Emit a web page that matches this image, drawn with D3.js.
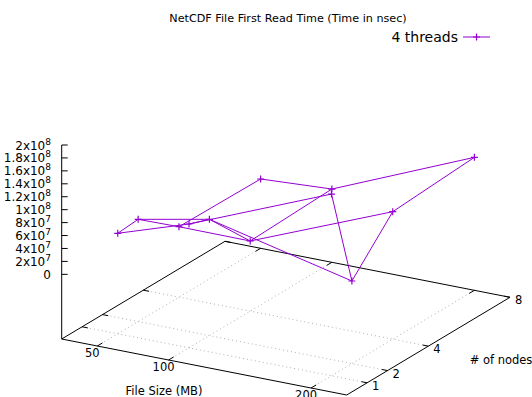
<!DOCTYPE html>
<html>
<head>
<meta charset="utf-8">
<script src="https://cdn.jsdelivr.net/npm/d3@7"></script>
<style>
  body { margin: 0; background: #fff; }
  svg { font-family: "DejaVu Sans", sans-serif; }
</style>
</head>
<body>
<svg id="chart" width="532" height="397"></svg>
<script>
// data
const fileSizes = [50, 100, 200];
const nodeCounts = [1, 2, 4, 8];
const time50 = [5.54e7, 5.81e7, 0.89e7, 0.72e7];
const time100 = [9.14e7, 7.98e7, 0.85e7, 1.33e7];
const time200 = [1.81e8, 2.77e7, 9.71e7, 1.056e8];
const seriesName = '4 threads';
const zTickValues = [0, 2e7, 4e7, 6e7, 8e7, 1e8, 1.2e8, 1.4e8, 1.6e8, 1.8e8, 2e8];

const times = [time50, time100, time200];
const COLOR = '#9400d3';

const svg = d3.select('#chart');

// base plane corners on screen (gnuplot view 60,30)
const L = [61.7, 339], F = [346.7, 395], R = [510, 297.3];
const xs = d3.scaleLinear().domain([25, 225]).range([0, 1]);
const ys = d3.scaleLinear().domain([0, 8]).range([0, 1]);
const zBase = -1e8; // ticslevel 0.5
const zs = d3.scaleLinear().domain([zBase, 2e8]).range([L[1], 145]);

function proj(x, y, z) {
  const u = xs(x), v = ys(y);
  return [
    L[0] + u * (F[0] - L[0]) + v * (R[0] - F[0]),
    zs(z) + u * (F[1] - L[1]) + v * (R[1] - F[1])
  ];
}
const line3 = d3.line().x(d => d[0]).y(d => d[1]);

// grid on base plane
const grid = svg.append('g').attr('stroke', '#b0b0b0').attr('stroke-width', 1)
  .attr('stroke-dasharray', '1,3').attr('fill', 'none');
fileSizes.forEach(x => {
  grid.append('path').attr('d', line3([proj(x, 0, zBase), proj(x, 8, zBase)]));
});
nodeCounts.filter(n => n < 8).forEach(y => {
  grid.append('path').attr('d', line3([proj(25, y, zBase), proj(225, y, zBase)]));
});

// border: base edges and z axis
const border = svg.append('g').attr('stroke', '#000').attr('stroke-width', 1).attr('fill', 'none');
border.append('path').attr('d', line3([
  proj(25, 0, zBase), proj(225, 0, zBase), proj(225, 8, zBase), proj(25, 8, zBase), proj(25, 0, zBase)
]));
border.append('path').attr('d', line3([proj(25, 0, zBase), proj(25, 0, 2e8)]));

// tics
const tics = svg.append('g').attr('stroke', '#000').attr('stroke-width', 1);
fileSizes.forEach(x => {
  tics.append('path').attr('d', line3([proj(x, 0, zBase), proj(x, 0.25, zBase)]));
  tics.append('path').attr('d', line3([proj(x, 8, zBase), proj(x, 7.75, zBase)]));
});
nodeCounts.forEach(y => {
  tics.append('path').attr('d', line3([proj(225, y, zBase), proj(221, y, zBase)]));
  tics.append('path').attr('d', line3([proj(25, y, zBase), proj(29, y, zBase)]));
});
zTickValues.forEach(z => {
  const p = proj(25, 0, z);
  tics.append('path').attr('d', line3([p, [p[0] + 6, p[1]]]));
});

// tick labels
const labels = svg.append('g').attr('fill', '#000').attr('font-size', 11.5);
fileSizes.forEach(x => {
  const p = proj(x, 0, zBase);
  labels.append('text').attr('x', p[0] - 5).attr('y', p[1] + 11)
    .attr('text-anchor', 'middle').text(x);
});
nodeCounts.forEach(y => {
  const p = proj(225, y, zBase);
  labels.append('text').attr('x', p[0] + 5).attr('y', p[1] + 7).text(y);
});
zTickValues.forEach(z => {
  const p = proj(25, 0, z);
  const t = labels.append('text').attr('x', 51).attr('y', p[1] + 4.5)
    .attr('text-anchor', 'end').attr('font-size', 12);
  if (z === 0) { t.text('0'); return; }
  const e = Math.floor(Math.log10(z));
  const m = +(z / Math.pow(10, e)).toFixed(1);
  t.append('tspan').text(m + 'x10');
  t.append('tspan').attr('font-size', 9).attr('dy', -5).text(e);
});

// axis labels
labels.append('text').attr('x', 164).attr('y', 395).attr('text-anchor', 'middle').text('File Size (MB)');
labels.append('text').attr('x', 501).attr('y', 364).attr('text-anchor', 'middle').text('# of nodes');

// title
svg.append('text').attr('x', 288).attr('y', 22).attr('text-anchor', 'middle')
  .attr('font-size', 11.2).text('NetCDF File First Read Time (Time in nsec)');

// data mesh: along nodes for each file size, and across file sizes for each node count
const pts = fileSizes.map((x, i) => nodeCounts.map((y, j) => proj(x, y, times[i][j])));
const mesh = svg.append('g').attr('stroke', COLOR).attr('stroke-width', 1).attr('fill', 'none');
pts.forEach(row => mesh.append('path').attr('d', line3(row)));
nodeCounts.forEach((y, j) => mesh.append('path').attr('d', line3(pts.map(row => row[j]))));

const plus = (g, p) => {
  g.append('path').attr('d', `M${p[0] - 3.5},${p[1]}H${p[0] + 3.5}M${p[0]},${p[1] - 3.5}V${p[1] + 3.5}`);
};
const marks = svg.append('g').attr('stroke', COLOR).attr('stroke-width', 1.2);
pts.flat().forEach(p => plus(marks, p));

// key
const key = svg.append('g');
key.append('text').attr('x', 458).attr('y', 42).attr('text-anchor', 'end')
  .attr('font-size', 14).text(seriesName);
key.append('path').attr('d', 'M463,37H490').attr('stroke', COLOR).attr('stroke-width', 1);
plus(key.append('g').attr('stroke', COLOR).attr('stroke-width', 1.2), [476.5, 37]);
</script>
</body>
</html>
